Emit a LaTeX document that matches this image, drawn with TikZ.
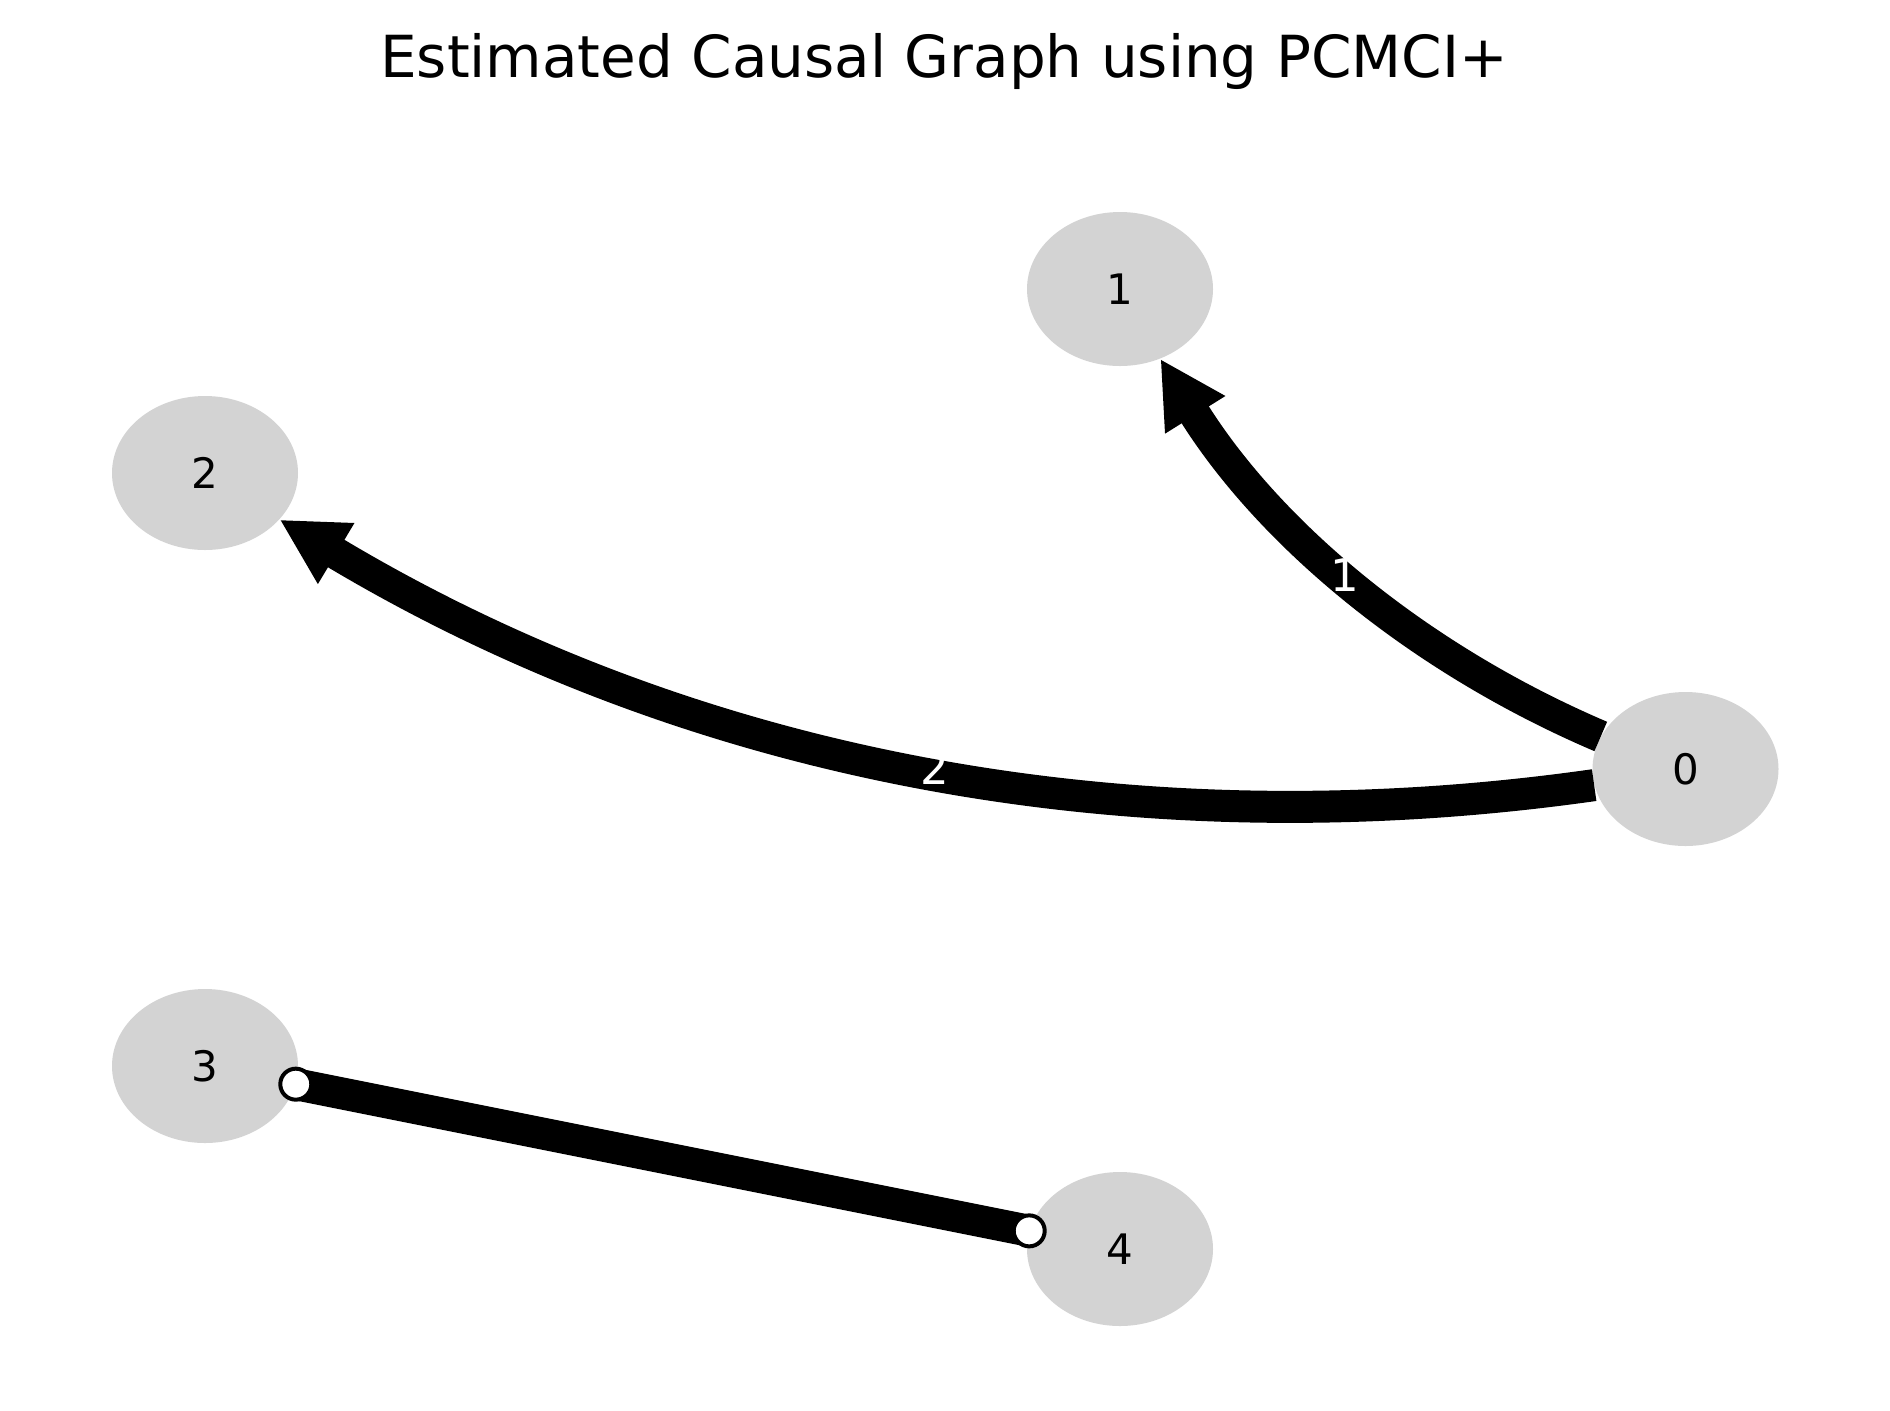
\documentclass[tikz,border=0pt]{standalone}
\usepackage{fontspec}
\setmainfont{DejaVu Sans}
\usetikzlibrary{arrows.meta,shapes.geometric}
\definecolor{nodegray}{RGB}{211,211,211}
\begin{document}
\begin{tikzpicture}[x=0.5pt,y=-0.5pt,
  vnode/.style={ellipse, fill=nodegray, minimum width=93pt, minimum height=77pt, inner sep=0pt, font=\fontsize{21}{25}\selectfont},
  edgeline/.style={line width=16pt, draw=black},
  arrowed/.style={edgeline, -{Triangle[length=33pt,width=33pt]}},
  elabel/.style={text=white, font=\fontsize{22.5}{26}\selectfont, inner sep=0pt},
  endmark/.style={circle, draw=black, fill=white, line width=2pt, minimum size=15.5pt, inner sep=0pt}
]
\useasboundingbox (0,0) rectangle (1890,1410);
\node[font=\fontsize{29}{34}\selectfont, anchor=base] (title) at (944,77) {Estimated Causal Graph using PCMCI+};
\node[vnode] (n0) at (1685.5,769) {0};
\node[vnode] (n1) at (1120,289) {1};
\node[vnode] (n2) at (205,473) {2};
\node[vnode] (n3) at (205,1066) {3};
\node[vnode] (n4) at (1120,1249) {4};
\coordinate (c01a) at (1414.6,656.9);
\coordinate (c01b) at (1267.6,530.9);
\coordinate (c02a) at (1124.7,851.6);
\coordinate (c02b) at (686.4,763.4);
\draw[arrowed] (n0.159.2) .. controls (c01a) and (c01b) .. (n1.-60.1);
\draw[arrowed] (n0.-170.66) .. controls (c02a) and (c02b) .. (n2.-32.0);
\draw[edgeline] (n3) -- coordinate[pos=0] (e3) coordinate[pos=1] (e4) (n4);
\node[endmark] (m3) at (e3) {};
\node[endmark] (m4) at (e4) {};
\node[elabel] (l1) at (1345,575) {1};
\node[elabel] (l2) at (935,768) {2};
\end{tikzpicture}
\end{document}
